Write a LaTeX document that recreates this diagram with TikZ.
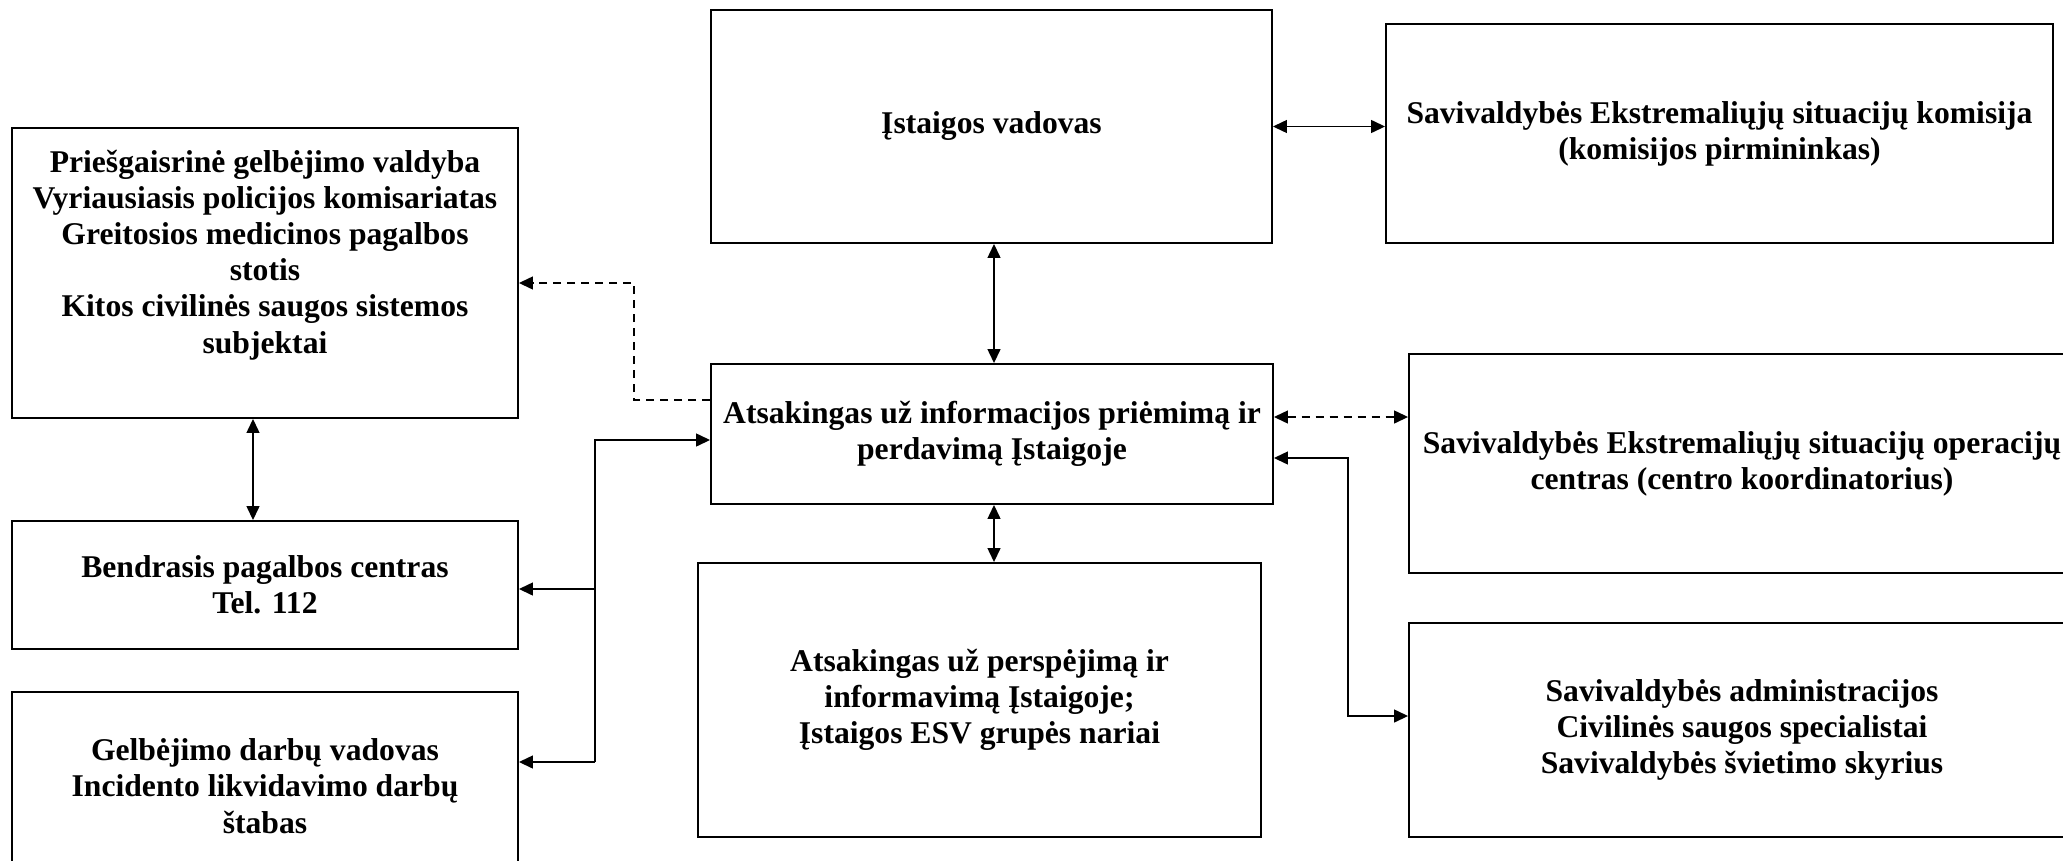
\documentclass[tikz,border=0pt]{standalone}
\usepackage{fontspec}
\setmainfont{Liberation Serif}
\usetikzlibrary{arrows.meta}
\tikzset{
  block/.style={rectangle, draw=black, line width=1.1pt, align=center,
                inner sep=0pt, font=\bfseries\fontsize{18pt}{20.6pt}\selectfont},
  link/.style={line width=0.8pt,
               {Triangle[length=0.28cm, width=0.26cm]}-{Triangle[length=0.28cm, width=0.26cm]}},
  linkto/.style={line width=0.8pt, -{Triangle[length=0.28cm, width=0.26cm]}},
  dashlink/.style={link, dash pattern=on 0.16cm off 0.12cm},
  dashto/.style={linkto, dash pattern=on 0.16cm off 0.12cm},
}

\begin{document}
\begin{tikzpicture}
    \clip (0,0) rectangle (41.26,-17.20);
    % Blocks
    \node[block, minimum width=10.12cm, minimum height=5.80cm] (pri) at (5.30,-5.46)
      {Priešgaisrinė gelbėjimo valdyba\\Vyriausiasis policijos komisariatas\\Greitosios medicinos pagalbos\\stotis\\Kitos civilinės saugos sistemos\\subjektai\\[4pt]~};
    \node[block, minimum width=10.12cm, minimum height=2.56cm] (ben) at (5.30,-11.70)
      {Bendrasis pagalbos centras\\Tel. 112};
    \node[block, minimum width=10.12cm, minimum height=3.76cm] (gel) at (5.30,-15.72)
      {Gelbėjimo darbų vadovas\\Incidento likvidavimo darbų\\štabas};
    \node[block, minimum width=11.22cm, minimum height=4.66cm] (vad) at (19.83,-2.53)
      {Įstaigos vadovas};
    \node[block, minimum width=13.34cm, minimum height=4.38cm] (kom) at (34.39,-2.67)
      {Savivaldybės Ekstremaliųjų situacijų komisija\\(komisijos pirmininkas)};
    \node[block, minimum width=11.24cm, minimum height=2.80cm] (ats) at (19.84,-8.68)
      {Atsakingas už informacijos priėmimą ir\\perdavimą Įstaigoje};
    \node[block, minimum width=11.26cm, minimum height=5.48cm] (per) at (19.59,-14.00)
      {Atsakingas už perspėjimą ir\\informavimą Įstaigoje;\\Įstaigos ESV grupės nariai};
    \node[block, minimum width=13.32cm, minimum height=4.38cm] (opr) at (34.84,-9.27)
      {Savivaldybės Ekstremaliųjų situacijų operacijų\\centras (centro koordinatorius)};
    \node[block, minimum width=13.32cm, minimum height=4.28cm] (adm) at (34.84,-14.60)
      {Savivaldybės administracijos\\Civilinės saugos specialistai\\Savivaldybės švietimo skyrius};
    % Corner points
    \coordinate (d1) at (12.68,-8.00);
    \coordinate (d2) at (12.68,-5.66);
    \coordinate (b1) at (11.90,-8.80);
    \coordinate (b2) at (11.90,-11.78);
    \coordinate (b3) at (11.90,-15.24);
    \coordinate (r1) at (26.96,-9.16);
    \coordinate (r2) at (26.96,-14.32);
    \coordinate (c1) at (19.88,-8.34);
    \coordinate (c2) at (5.06,0);
    % Connectors
    \draw[link] (vad.south -| c1) -- (ats.north -| c1);
    \draw[link] (ats.south -| c1) -- (per.north -| c1);
    \draw[link] (vad.east) -- (vad.east -| kom.west);
    \draw[dashlink] (c1 -| ats.east) -- (c1 -| opr.west);
    \draw[dashto] (d1 -| ats.west) -- (d1) -- (d2) -- (d2 -| pri.east);
    \draw[link] (pri.south -| c2) -- (ben.north -| c2);
    \draw[linkto] (b3) -- (b1) -- (b1 -| ats.west);
    \draw[linkto] (b2) -- (b2 -| ben.east);
    \draw[linkto] (b3) -- (b3 -| gel.east);
    \draw[link] (r1 -| ats.east) -- (r1) -- (r2) -- (r2 -| adm.west);
\end{tikzpicture}
\end{document}
